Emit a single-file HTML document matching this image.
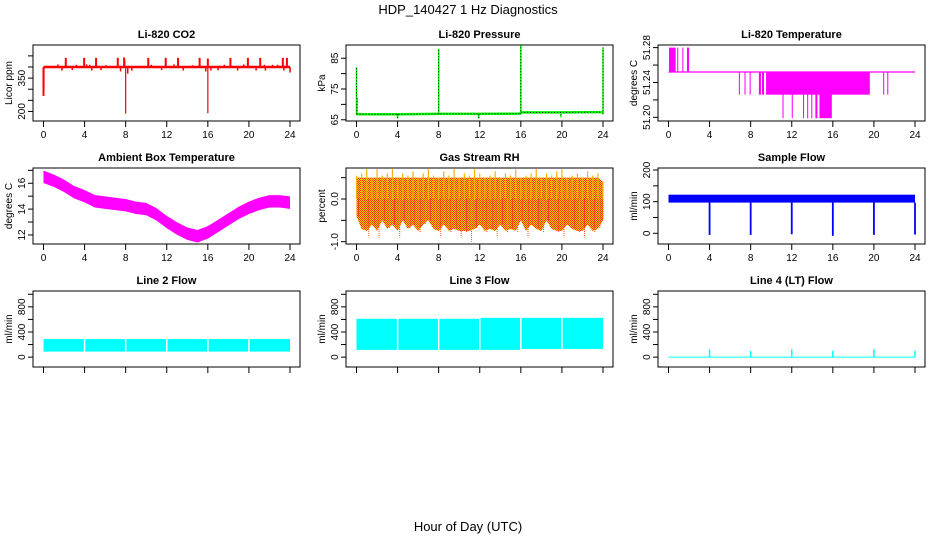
<!DOCTYPE html>
<html><head><meta charset="utf-8"><style>
html,body{margin:0;padding:0;background:#fff}
svg{display:block;font-family:"Liberation Sans",sans-serif}
</style></head><body>
<svg id="c" width="936" height="540" viewBox="0 0 936 540">
<defs>
<pattern id="rhpat" width="2" height="2" patternUnits="userSpaceOnUse"><rect width="2" height="2" fill="#ffd000"/><rect width="1" height="1" fill="#ff3000"/><rect x="1" y="1" width="1" height="1" fill="#ff3000"/></pattern>
</defs>
<text x="468" y="14" text-anchor="middle" font-size="13">HDP_140427  1 Hz Diagnostics</text>
<text x="468" y="531" text-anchor="middle" font-size="13">Hour of Day (UTC)</text>
</svg>
<script>
// ---- data ----
const xTicks = [0,4,8,12,16,20,24];
const co2Base = 400;
const co2SpikeHours = [2.17,3.96,5.12,7.23,7.85,10.2,11.9,13.1,15.2,16.0,18.2,19.9,21.1,23.3,23.7,1.4,3.2,4.2,4.5,6.1,7.9,8.2,10.5,12.7,14.5,15.8,17.6,19.5,21.5,22.3,22.8,1.8,2.8,4.7,5.6,7.5,8.6,11.5,13.6,16.3,17.0,18.9,20.7,21.6,23.4,24.0];
const co2SpikeVals  = [441,441,441,441,443,441,441,441,441,438,441,441,441,441,441,412,410,412,410,408,430,370,410,412,408,380,410,412,410,410,410,384,386,384,386,380,384,386,384,384,385,384,384,384,384,375];
const co2DipHours = [0.0,0.05,8.0,16.0];
const co2DipVals  = [270,300,190,192];
const presBaseHours = [0,4,8,12,15.9,16.1,20,24];
const presBaseVals  = [66.8,66.8,66.9,66.9,67.0,67.4,67.4,67.5];
const presSpikeHours = [0.0,0.05,8.0,16.0,24.0,4.0,11.9,19.9];
const presSpikeVals  = [82,72,88,89.3,88.5,65.5,65.5,65.8];
const tempBase = 51.252;
const tempBlocks = [[0.05,0.7,51.28],[0.85,0.95,51.28],[1.35,1.45,51.28],[1.8,2.0,51.28],[6.85,6.95,51.226],[7.4,7.5,51.226],[7.9,8.0,51.226],[8.8,9.0,51.226],[9.1,9.3,51.226],[9.5,19.6,51.226],[20.9,21.0,51.226],[21.3,21.4,51.226],[11.1,11.2,51.199],[12.0,12.1,51.199],[13.1,13.2,51.199],[13.5,13.6,51.199],[13.9,14.0,51.199],[14.3,14.5,51.199],[14.7,15.9,51.199]];
const ambHours = [0,1,2,3,4,5,6,7,8,9,10,11,12,13,14,15,16,17,18,19,20,21,22,23,24];
const ambVals  = [16.5,16.2,15.8,15.3,15.0,14.6,14.5,14.4,14.3,14.1,14.0,13.6,13.0,12.5,12.1,11.9,12.2,12.7,13.2,13.7,14.1,14.4,14.6,14.6,14.5];
const rhHi = [0.55,0.6,0.7,0.5,0.7,0.55,0.6,0.7,0.5,0.6,0.55,0.65,0.5,0.6,0.7,0.55,0.5,0.65,0.55,0.7,0.5,0.6,0.55,0.7,0.6,0.5,0.55,0.65,0.5,0.6,0.55,0.7,0.5,0.55,0.6,0.7,0.5,0.6,0.55,0.65,0.7,0.5,0.55,0.6,0.5,0.65,0.55,0.6,0.4];
const rhLo = [-0.4,-0.7,-0.9,-0.6,-0.9,-0.5,-0.7,-0.6,-0.9,-0.5,-0.7,-0.6,-0.8,-0.6,-0.5,-0.7,-0.9,-0.6,-0.8,-0.7,-0.9,-0.8,-1.0,-0.7,-0.6,-0.8,-0.7,-0.9,-0.6,-0.8,-0.7,-0.8,-0.5,-0.9,-0.6,-0.7,-0.8,-0.5,-0.7,-0.8,-0.9,-0.6,-0.7,-0.8,-0.9,-0.6,-0.8,-0.7,-0.5];
const sampLo = 97, sampHi = 122;
const sampDipHours = [4,8,12,16,20,24];
const sampDipVals  = [-5,-5,-3,-8,-5,-4];
const l2Lo = 88, l2Hi = 288;
const l3LoVals = [115,115,115,115,130,130,120];
const l3HiVals = [610,610,610,625,625,625,600];
const gapHours = [4,8,12,16,20];
const l4SpikeHours = [4,8,12,16,20,24];
const l4SpikeVals  = [125,100,125,100,125,100];

// ---- layout ----
const NS="http://www.w3.org/2000/svg", svg=document.getElementById('c');
const colX=[33,346,658], rowY=[45,168,291], W=267, H=76;
function mk(tag,at,parent){const e=document.createElementNS(NS,tag);for(const k in at)e.setAttribute(k,at[k]);(parent||svg).appendChild(e);return e;}
function panel(col,row,title,ylab,ymin,ymax,ticks,labels,showX,name){
  const L=colX[col],T=rowY[row];
  const g=mk('g',{});
  
  
  const p={L,T,g,sx:h=>L+10.5+h/24*246.5,sy:v=>T+H-(v-ymin)/(ymax-ymin)*H};
  const t=mk('text',{x:L+W/2,y:T-7,'text-anchor':'middle','font-size':11,'font-weight':'bold'},g);t.textContent=title;
  
  const yl=mk('text',{x:0,y:0,'text-anchor':'middle','font-size':10,transform:`translate(${L-21},${T+H/2}) rotate(-90)`},g);yl.textContent=ylab;
  
  mk('line',{x1:L,x2:L,y1:p.sy(ticks[0]),y2:p.sy(ticks[ticks.length-1]),stroke:'#000'},g);
  ticks.forEach(v=>{mk('line',{x1:L-5,x2:L,y1:p.sy(v),y2:p.sy(v),stroke:'#000'},g);});
  labels.forEach(v=>{const tx=mk('text',{x:0,y:0,'text-anchor':'middle','font-size':10,transform:`translate(${L-8},${p.sy(v)}) rotate(-90)`},g);tx.textContent=String(v);
    });
  mk('line',{x1:p.sx(0),x2:p.sx(24),y1:T+H,y2:T+H,stroke:'#000'},g);
  xTicks.forEach(h=>{mk('line',{x1:p.sx(h),x2:p.sx(h),y1:T+H,y2:T+H+6,stroke:'#000'},g);
    if(showX){const tx=mk('text',{x:p.sx(h),y:T+H+17,'text-anchor':'middle','font-size':10},g);tx.textContent=h;
      }});
  p.data=mk('g',{},g);
  p.box=()=>mk('rect',{x:L,y:T,width:W,height:H,fill:'none',stroke:'#000'},g);
  return p;
}
function vline(p,h,v1,v2,col,w,extra){return mk('line',Object.assign({x1:p.sx(h),x2:p.sx(h),y1:p.sy(v1),y2:p.sy(v2),stroke:col,'stroke-width':w||1},extra||{}),p.data);}
function hline(p,h1,h2,v,col,w){return mk('line',{x1:p.sx(h1),x2:p.sx(h2),y1:p.sy(v),y2:p.sy(v),stroke:col,'stroke-width':w||1},p.data);}
function rectB(p,h1,h2,lo,hi,fill){return mk('rect',{x:p.sx(h1),y:p.sy(hi),width:p.sx(h2)-p.sx(h1),height:p.sy(lo)-p.sy(hi),fill},p.data);}

// CO2
let p=panel(0,0,'Li-820 CO2','Licor ppm',157,499,[200,250,300,350,400,450],[200,350],true,'co2-panel');
hline(p,0,24,co2Base,'#f00',2.5);
co2SpikeHours.forEach((h,i)=>{const e=vline(p,h,co2Base,co2SpikeVals[i],'#f00',co2SpikeVals[i]>430?2:1.5);});
co2DipHours.forEach((h,i)=>{const e=vline(p,h,co2Base,co2DipVals[i],'#f00',h===0?2:1.2);});
p.box();

// Pressure
p=panel(1,0,'Li-820 Pressure','kPa',64.6,89.3,[65,70,75,80,85],[65,75,85],true,'pressure-panel');
const pts=presBaseHours.map((h,i)=>p.sx(h)+','+p.sy(presBaseVals[i])).join(' ');
mk('polyline',{points:pts,fill:'none',stroke:'#0f0','stroke-width':2.5},p.data);
mk('polyline',{points:pts,fill:'none',stroke:'#000','stroke-width':1,'stroke-dasharray':'1,2'},p.data);
presSpikeHours.forEach((h,i)=>{const e=vline(p,h,presBaseVals[0],presSpikeVals[i],'#0f0',1.5);
  const d=vline(p,h,presBaseVals[0],presSpikeVals[i],'#000',1,{'stroke-dasharray':'1,2'});});
p.box();

// Temperature
p=panel(2,0,'Li-820 Temperature','degrees C',51.1958,51.283,[51.20,51.22,51.24,51.26,51.28],['51.20','51.24','51.28'],true,'li820-temperature-panel');
hline(p,0,24,tempBase,'#f0f',1.2);
tempBlocks.forEach(b=>{const e=rectB(p,b[0],b[1],Math.min(tempBase,b[2]),Math.max(tempBase,b[2]),'#f0f');});
p.box();

// Ambient
p=panel(0,1,'Ambient Box Temperature','degrees C',11.30,17.18,[12,13,14,15,16,17],[12,14,16],true,'ambient-temperature-panel');
{const up=ambHours.map((h,i)=>p.sx(h)+','+p.sy(ambVals[i]+0.48)).join(' ');
 const dn=ambHours.slice().reverse().map((h,i)=>p.sx(h)+','+p.sy(ambVals[ambVals.length-1-i]-0.48)).join(' ');
 const e=mk('polygon',{points:up+' '+dn,fill:'#f0f'},p.data);}
p.box();

// RH
p=panel(1,1,'Gas Stream RH','percent',-1.054,0.726,[-1,-0.5,0,0.5],['-1.0','0.0'],true,'rh-panel');
{const n=rhHi.length-1;
 let up=[],dn=[];
 rhHi.forEach((v,i)=>{const h=i*24/n;up.push(p.sx(h)+','+p.sy(Math.min(v,0.5)));});
 rhLo.forEach((v,i)=>{const h=i*24/n;dn.unshift(p.sx(h)+','+p.sy(Math.max(v,-0.75)));});
 const e=mk('polygon',{points:up.concat(dn).join(' '),fill:'url(#rhpat)'},p.data);}
rhHi.forEach((v,i)=>{const h=i*24/(rhHi.length-1);
  const a=vline(p,h,0,v,'#ffb000',1.2);
  const b=vline(p,Math.min(24,h+0.2),0,rhLo[i],'#ff5000',1,{'stroke-dasharray':'1,1'});});
p.box();

// Sample flow
p=panel(2,1,'Sample Flow','ml/min',-33.8,206.3,[0,50,100,150,200],[0,100,200],true,'sample-flow-panel');
{const e=rectB(p,0,24,sampLo,sampHi,'#0000ff');}
sampDipHours.forEach((h,i)=>{const e=vline(p,h,sampLo,sampDipVals[i],'#0000ff',1.8);});
p.box();

// Line 2
p=panel(0,2,'Line 2 Flow','ml/min',-157,1052,[0,200,400,600,800,1000],[0,400,800],false,'line2-flow-panel');
{const e=rectB(p,0,24,l2Lo,l2Hi,'#00ffff');}
gapHours.forEach(h=>{const e=vline(p,h,l2Lo-20,l2Hi+20,'#fff',1.5);});
p.box();

// Line 3
p=panel(1,2,'Line 3 Flow','ml/min',-157,1052,[0,200,400,600,800,1000],[0,400,800],false,'line3-flow-panel');
l3HiVals.forEach((v,i)=>{const h1=i*4,h2=Math.min(24,i*4+4);if(h1>=24)return;const e=rectB(p,h1,h2,l3LoVals[i],v,'#00ffff');});
gapHours.forEach(h=>{const e=vline(p,h,l3LoVals[0]-20,700,'#fff',1.5);});
p.box();

// Line 4
p=panel(2,2,'Line 4 (LT) Flow','ml/min',-157,1052,[0,200,400,600,800,1000],[0,400,800],false,'line4-flow-panel');
hline(p,0,24,0,'#00ffff',1);
l4SpikeHours.forEach((h,i)=>{const e=vline(p,h,0,l4SpikeVals[i],'#00ffff',1.5);});
p.box();
</script>
</body></html>
